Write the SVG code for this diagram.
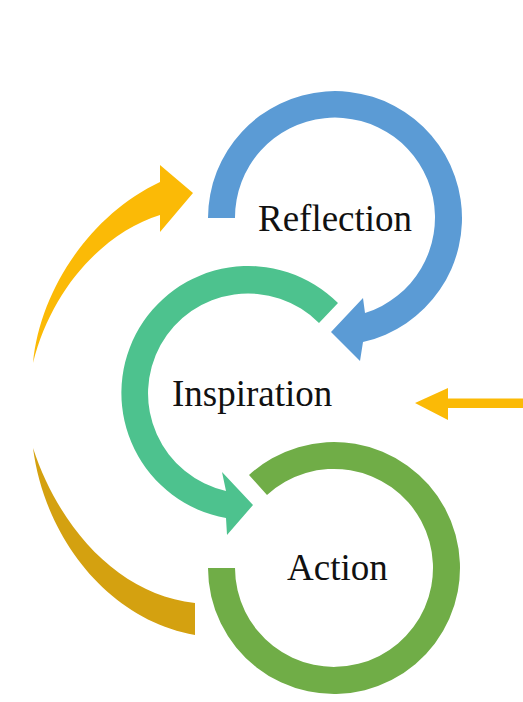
<svg xmlns="http://www.w3.org/2000/svg" width="523" height="702" viewBox="0 0 523 702">
<style>
  .label { font-family: "Liberation Serif", "Times New Roman", serif; font-size: 37px; fill: #111111; }
  .blue { fill: #5B9BD5; }
  .teal { fill: #4DC28E; }
  .green { fill: #70AD47; }
  .gold { fill: #FBBA06; }
  .dkgold { fill: #D4A110; }
</style>
<rect width="523" height="702" fill="#FFFFFF"/>
<g id="connectors">
  <path id="upper-return" class="gold" d="M 33,363 C 40,290 90,215 160,182 L 160,165 L 193,193 L 160,232 L 160,215 C 105,232 52,287 33,363 Z"/>
  <path id="lower-return" class="dkgold" d="M 33,448 C 45,540 110,620 195,635 L 195,603 C 120,595 60,530 33,448 Z"/>
  <path id="input-arrow" class="gold" d="M 523,398.5 L 448,398.5 L 448,388 L 415,403 L 448,420 L 448,408 L 523,408 Z"/>
</g>
<g id="action">
  <path class="green" d="M 249,475 A 126 126 0 1 1 208,568 L 235,568 A 99 99 0 1 0 267,495 Z"/>
  <text class="label" x="287" y="580">Action</text>
</g>
<g id="inspiration">
  <path class="teal" d="M 338,303 A 127 127 0 1 0 226,518 L 227,535 L 253,505 L 222,472 L 226,491 A 100 100 0 1 1 319,323 Z"/>
  <text class="label" x="172" y="406">Inspiration</text>
</g>
<g id="reflection">
  <path class="blue" d="M 208,218 A 127 127 0 1 1 363,342 L 360,361 L 331,332 L 363,298 L 365,313 A 100 100 0 1 0 235,218 Z"/>
  <text class="label" x="258" y="231">Reflection</text>
</g>
</svg>
